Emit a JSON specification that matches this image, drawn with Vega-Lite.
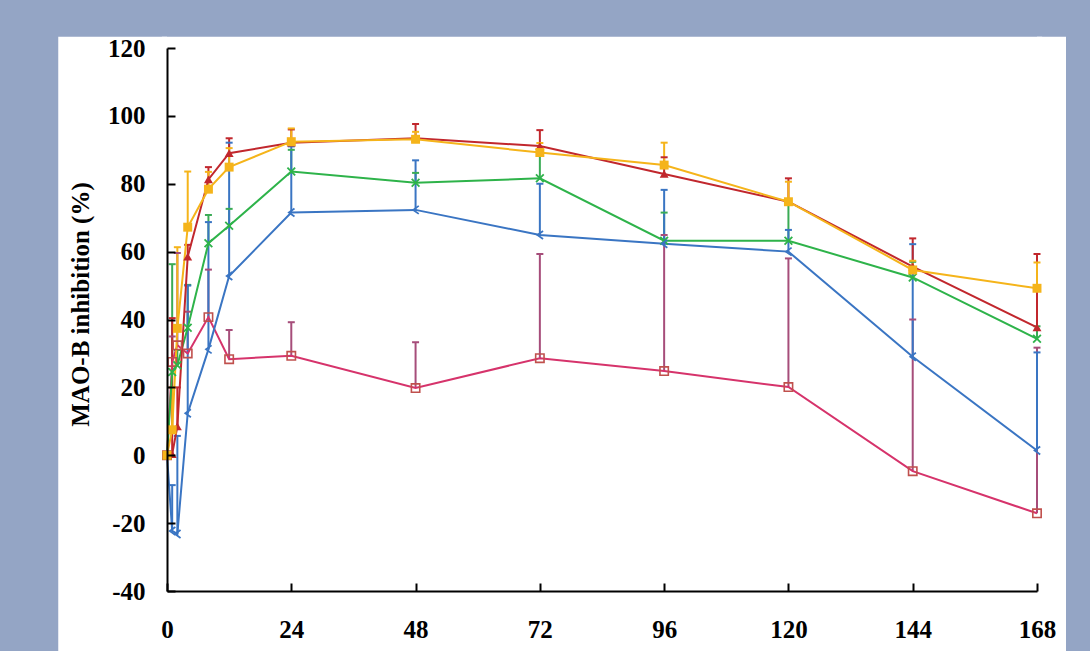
{
"$schema": "https://vega.github.io/schema/vega-lite/v6.json",
"width": 870, "height": 543,
"autosize": {"type": "none"},
"padding": {"left": 167, "top": 48, "right": 53, "bottom": 60},
"background": "#94a5c5",
"config": {
  "view": {"stroke": null, "fill": "white"},
  "font": "Liberation Serif",
  "axis": {"grid": false, "domainColor": "black", "domainWidth": 2, "tickColor": "black", "tickWidth": 2,
           "labelFont": "Liberation Serif", "labelFontWeight": "bold", "labelFontSize": 25, "labelColor": "black",
           "titleFont": "Liberation Serif", "titleFontWeight": "bold", "titleFontSize": 25, "titleColor": "black"}
},
"data": {"values": [
{"s":"1 mg tablet","t":0,"v":0,"hi":null},
{"s":"1 mg tablet","t":1,"v":27.5,"hi":35},
{"s":"1 mg tablet","t":2,"v":32.4,"hi":59.6},
{"s":"1 mg tablet","t":4,"v":30,"hi":42.3},
{"s":"1 mg tablet","t":8,"v":40.7,"hi":54.7},
{"s":"1 mg tablet","t":12,"v":28.3,"hi":36.9},
{"s":"1 mg tablet","t":24,"v":29.3,"hi":39.2},
{"s":"1 mg tablet","t":48,"v":19.8,"hi":33.3},
{"s":"1 mg tablet","t":72,"v":28.6,"hi":59.3},
{"s":"1 mg tablet","t":96,"v":24.8,"hi":64.9},
{"s":"1 mg tablet","t":120,"v":20.1,"hi":58},
{"s":"1 mg tablet","t":144,"v":-4.7,"hi":40},
{"s":"1 mg tablet","t":168,"v":-17.1,"hi":31.7},
{"s":"1.25 mg/24 h patch","t":0,"v":0,"hi":null},
{"s":"1.25 mg/24 h patch","t":1,"v":24.5,"hi":56.3},
{"s":"1.25 mg/24 h patch","t":2,"v":26.5,"hi":31},
{"s":"1.25 mg/24 h patch","t":4,"v":37.6,"hi":50.2},
{"s":"1.25 mg/24 h patch","t":8,"v":62.5,"hi":70.8},
{"s":"1.25 mg/24 h patch","t":12,"v":67.6,"hi":72.6},
{"s":"1.25 mg/24 h patch","t":24,"v":83.6,"hi":90},
{"s":"1.25 mg/24 h patch","t":48,"v":80.3,"hi":83.2},
{"s":"1.25 mg/24 h patch","t":72,"v":81.6,"hi":88.5},
{"s":"1.25 mg/24 h patch","t":96,"v":63.2,"hi":71.5},
{"s":"1.25 mg/24 h patch","t":120,"v":63.2,"hi":74},
{"s":"1.25 mg/24 h patch","t":144,"v":52.4,"hi":57},
{"s":"1.25 mg/24 h patch","t":168,"v":34.3,"hi":38},
{"s":"1.25 mg/48 h patch","t":0,"v":0,"hi":null},
{"s":"1.25 mg/48 h patch","t":1,"v":-22.3,"hi":-8.8},
{"s":"1.25 mg/48 h patch","t":2,"v":-23.2,"hi":5.7},
{"s":"1.25 mg/48 h patch","t":4,"v":12.4,"hi":50},
{"s":"1.25 mg/48 h patch","t":8,"v":31.2,"hi":68.7},
{"s":"1.25 mg/48 h patch","t":12,"v":52.8,"hi":92.1},
{"s":"1.25 mg/48 h patch","t":24,"v":71.5,"hi":91},
{"s":"1.25 mg/48 h patch","t":48,"v":72.3,"hi":86.9},
{"s":"1.25 mg/48 h patch","t":72,"v":64.9,"hi":80},
{"s":"1.25 mg/48 h patch","t":96,"v":62.3,"hi":78.2},
{"s":"1.25 mg/48 h patch","t":120,"v":60,"hi":66.4},
{"s":"1.25 mg/48 h patch","t":144,"v":29,"hi":62.2},
{"s":"1.25 mg/48 h patch","t":168,"v":1.4,"hi":30.3},
{"s":"2.5 mg/48 h patch","t":0,"v":0,"hi":null},
{"s":"2.5 mg/48 h patch","t":1,"v":0.3,"hi":40.4},
{"s":"2.5 mg/48 h patch","t":2,"v":8.5,"hi":20},
{"s":"2.5 mg/48 h patch","t":4,"v":58.5,"hi":62},
{"s":"2.5 mg/48 h patch","t":8,"v":81.3,"hi":84.9},
{"s":"2.5 mg/48 h patch","t":12,"v":89,"hi":93.4},
{"s":"2.5 mg/48 h patch","t":24,"v":92.1,"hi":96},
{"s":"2.5 mg/48 h patch","t":48,"v":93.4,"hi":97.6},
{"s":"2.5 mg/48 h patch","t":72,"v":91.1,"hi":95.8},
{"s":"2.5 mg/48 h patch","t":96,"v":82.9,"hi":87.8},
{"s":"2.5 mg/48 h patch","t":120,"v":74.7,"hi":81.6},
{"s":"2.5 mg/48 h patch","t":144,"v":55.6,"hi":63.9},
{"s":"2.5 mg/48 h patch","t":168,"v":37.7,"hi":59.3},
{"s":"2.5 mg/72 h patch","t":0,"v":0,"hi":null},
{"s":"2.5 mg/72 h patch","t":1,"v":7.5,"hi":20},
{"s":"2.5 mg/72 h patch","t":2,"v":37.4,"hi":61.3},
{"s":"2.5 mg/72 h patch","t":4,"v":67.2,"hi":83.6},
{"s":"2.5 mg/72 h patch","t":8,"v":78.4,"hi":83.5},
{"s":"2.5 mg/72 h patch","t":12,"v":84.9,"hi":90.5},
{"s":"2.5 mg/72 h patch","t":24,"v":92.4,"hi":96.3},
{"s":"2.5 mg/72 h patch","t":48,"v":93.1,"hi":95.3},
{"s":"2.5 mg/72 h patch","t":72,"v":89.2,"hi":92},
{"s":"2.5 mg/72 h patch","t":96,"v":85.5,"hi":92.1},
{"s":"2.5 mg/72 h patch","t":120,"v":74.7,"hi":80.6},
{"s":"2.5 mg/72 h patch","t":144,"v":54.6,"hi":57.3},
{"s":"2.5 mg/72 h patch","t":168,"v":49.2,"hi":56.8}
]},
"layer": [
{
  "data": {"values": [{"panel": 1}]},
  "mark": {"type": "rect", "clip": false, "color": "white"},
  "encoding": {
    "x": {"datum": -21, "type": "quantitative", "title": null, "scale": {"domain": [0, 168], "nice": false, "zero": false},
          "axis": {"zindex": 2, "values": [0,24,48,72,96,120,144,168], "tickSize": -8, "labelPadding": 34, "labelFlush": false, "labelOverlap": false}},
    "x2": {"datum": 0},
    "y": {"datum": 123.3, "type": "quantitative", "title": "MAO-B inhibition (%)", "scale": {"domain": [-40, 120], "nice": false, "zero": false},
          "axis": {"zindex": 2, "values": [-40,-20,0,20,40,60,80,100,120], "tickSize": -8, "labelPadding": 30, "labelFlush": false, "labelOverlap": false,
                   "labelExpr": "datum.value < 0 ? '-' + abs(datum.value) : '' + datum.value",
                   "titleX": -79, "titleY": 256, "titleBaseline": "alphabetic"}},
    "y2": {"datum": -62}
  }
},
{
  "data": {"values": [{"panel": 2}]},
  "mark": {"type": "rect", "clip": false, "color": "white"},
  "encoding": {
    "x": {"datum": -1, "type": "quantitative", "title": null},
    "x2": {"datum": 173.6},
    "y": {"datum": -40, "type": "quantitative", "title": "MAO-B inhibition (%)"},
    "y2": {"datum": -62}
  }
},
{
  "data": {"values": [{"panel": 3}]},
  "mark": {"type": "rect", "clip": false, "color": "white"},
  "encoding": {
    "x": {"datum": 168, "type": "quantitative", "title": null},
    "x2": {"datum": 173.6},
    "y": {"datum": 123.3, "type": "quantitative", "title": "MAO-B inhibition (%)"},
    "y2": {"datum": -41}
  }
},
{
  "data": {"values": [{"panel": 4}]},
  "mark": {"type": "rect", "clip": false, "color": "white"},
  "encoding": {
    "x": {"datum": -1, "type": "quantitative", "title": null},
    "x2": {"datum": 169},
    "y": {"datum": 123.3, "type": "quantitative", "title": "MAO-B inhibition (%)"},
    "y2": {"datum": 120}
  }
},
{
  "transform": [{"filter": "isValid(datum.hi)"}],
  "mark": {"type": "rule", "strokeWidth": 2},
  "encoding": {
    "x": {"field": "t", "type": "quantitative", "title": null,
          "axis": {"zindex": 2, "values": [0,24,48,72,96,120,144,168], "tickSize": -8, "labelPadding": 34, "labelFlush": false, "labelOverlap": false}},
    "y": {"field": "v", "type": "quantitative", "title": "MAO-B inhibition (%)",
          "axis": {"zindex": 2, "values": [-40,-20,0,20,40,60,80,100,120], "tickSize": -8, "labelPadding": 30, "labelFlush": false, "labelOverlap": false,
                   "labelExpr": "datum.value < 0 ? '-' + abs(datum.value) : '' + datum.value",
                   "titleX": -79, "titleY": 256, "titleBaseline": "alphabetic"}},
    "y2": {"field": "hi"},
    "stroke": {"field": "s", "type": "nominal", "legend": null,
      "scale": {"domain": ["1 mg tablet","1.25 mg/24 h patch","1.25 mg/48 h patch","2.5 mg/48 h patch","2.5 mg/72 h patch"],
                "range": ["#a64d7a","#3aab55","#3a75c3","#c1272d","#f5b41a"]}}
  }
},
{
  "transform": [{"filter": "isValid(datum.hi)"}],
  "mark": {"type": "point", "shape": "M-1,0H1", "size": 49, "filled": false, "strokeWidth": 2, "opacity": 1},
  "encoding": {
    "x": {"field": "t", "type": "quantitative", "title": null,
          "axis": {"zindex": 2, "values": [0,24,48,72,96,120,144,168], "tickSize": -8, "labelPadding": 34, "labelFlush": false, "labelOverlap": false}},
    "y": {"field": "hi", "type": "quantitative", "title": "MAO-B inhibition (%)",
          "axis": {"zindex": 2, "values": [-40,-20,0,20,40,60,80,100,120], "tickSize": -8, "labelPadding": 30, "labelFlush": false, "labelOverlap": false,
                   "labelExpr": "datum.value < 0 ? '-' + abs(datum.value) : '' + datum.value",
                   "titleX": -79, "titleY": 256, "titleBaseline": "alphabetic"}},
    "stroke": {"field": "s", "type": "nominal", "legend": null}
  }
},
{
  "mark": {"type": "line", "strokeWidth": 2},
  "encoding": {
    "x": {"field": "t", "type": "quantitative", "title": null,
          "axis": {"zindex": 2, "values": [0,24,48,72,96,120,144,168], "tickSize": -8, "labelPadding": 34, "labelFlush": false, "labelOverlap": false}},
    "y": {"field": "v", "type": "quantitative", "title": "MAO-B inhibition (%)",
          "axis": {"zindex": 2, "values": [-40,-20,0,20,40,60,80,100,120], "tickSize": -8, "labelPadding": 30, "labelFlush": false, "labelOverlap": false,
                   "labelExpr": "datum.value < 0 ? '-' + abs(datum.value) : '' + datum.value",
                   "titleX": -79, "titleY": 256, "titleBaseline": "alphabetic"}},
    "color": {"field": "s", "type": "nominal",
      "scale": {"domain": ["1 mg tablet","1.25 mg/24 h patch","1.25 mg/48 h patch","2.5 mg/48 h patch","2.5 mg/72 h patch"],
                "range": ["#d6336b","#2eb34a","#3a75c3","#c1272d","#f5b41a"]},
      "legend": {"title": null, "zindex": 3, "orient": "none", "legendX": 281, "legendY": 348, "symbolType": "stroke", "symbolSize": 900, "symbolStrokeWidth": 2,
                 "symbolOpacity": 1, "labelFont": "Liberation Serif", "labelFontWeight": "bold",
                 "labelFontSize": 25, "labelColor": "black", "labelOffset": 2, "rowPadding": -2, "padding": 0, "labelLimit": 400}}
  }
},
{
  "transform": [{"filter": "datum.s === '1 mg tablet'"}],
  "mark": {"type": "point", "shape": "square", "size": 70, "filled": false, "stroke": "#c0504d", "strokeWidth": 1.6, "opacity": 1},
  "encoding": {"x": {"field": "t", "type": "quantitative", "title": null}, "y": {"field": "v", "type": "quantitative", "title": "MAO-B inhibition (%)"}}
},
{
  "transform": [{"filter": "datum.s === '1.25 mg/24 h patch'"}],
  "mark": {"type": "point", "shape": "M-1,-1L1,1M-1,1L1,-1", "size": 60, "filled": false, "stroke": "#2eb34a", "strokeWidth": 1.8, "opacity": 1},
  "encoding": {"x": {"field": "t", "type": "quantitative", "title": null}, "y": {"field": "v", "type": "quantitative", "title": "MAO-B inhibition (%)"}}
},
{
  "transform": [{"filter": "datum.s === '1.25 mg/48 h patch'"}],
  "mark": {"type": "point", "shape": "M0.8,-1L-0.6,0L0.8,1", "size": 64, "filled": false, "stroke": "#3a75c3", "strokeWidth": 1.8, "opacity": 1},
  "encoding": {"x": {"field": "t", "type": "quantitative", "title": null}, "y": {"field": "v", "type": "quantitative", "title": "MAO-B inhibition (%)"}}
},
{
  "transform": [{"filter": "datum.s === '2.5 mg/48 h patch'"}],
  "mark": {"type": "point", "shape": "triangle-up", "size": 80, "filled": true, "fill": "#c1272d", "opacity": 1},
  "encoding": {"x": {"field": "t", "type": "quantitative", "title": null}, "y": {"field": "v", "type": "quantitative", "title": "MAO-B inhibition (%)"}}
},
{
  "transform": [{"filter": "datum.s === '2.5 mg/72 h patch'"}],
  "mark": {"type": "point", "shape": "square", "size": 80, "filled": true, "fill": "#f5b41a", "opacity": 1},
  "encoding": {"x": {"field": "t", "type": "quantitative", "title": null}, "y": {"field": "v", "type": "quantitative", "title": "MAO-B inhibition (%)"}}
}
]
}
